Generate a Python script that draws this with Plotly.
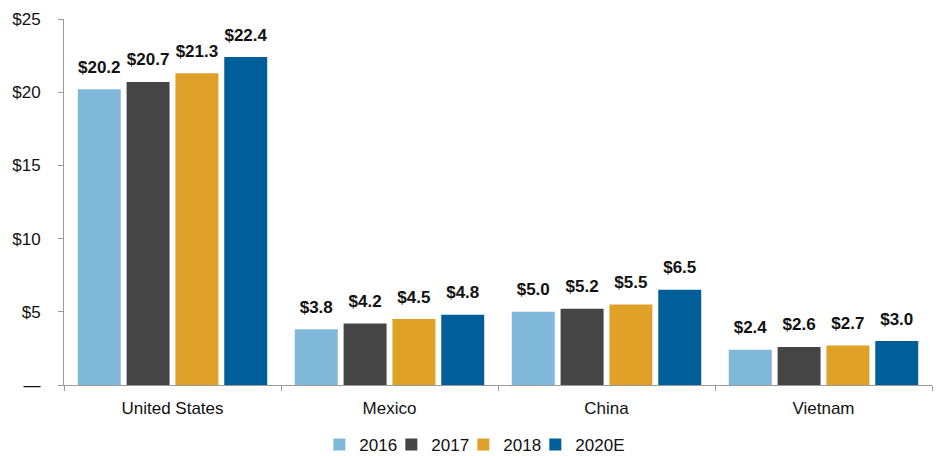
import plotly.graph_objects as go

countries = ["United States", "Mexico", "China", "Vietnam"]
years = ["2016", "2017", "2018", "2020E"]
values = {
    "2016": [20.2, 3.8, 5.0, 2.4],
    "2017": [20.7, 4.2, 5.2, 2.6],
    "2018": [21.3, 4.5, 5.5, 2.7],
    "2020E": [22.4, 4.8, 6.5, 3.0],
}
colors = {
    "2016": "#7FB8D9",
    "2017": "#454545",
    "2018": "#E0A129",
    "2020E": "#005F98",
}
tick_vals = [0, 5, 10, 15, 20, 25]
tick_text = ["—", "$5", "$10", "$15", "$20", "$25"]

FONT = "Liberation Sans, Arial"

fig = go.Figure()
for yr in years:
    fig.add_trace(go.Bar(
        name=yr,
        x=countries,
        y=values[yr],
        offsetgroup=yr,
        marker=dict(color=colors[yr], line=dict(width=0)),
    ))

# blank legend slot so the last compact entry keeps room for its text
fig.add_trace(go.Bar(
    name=" ", x=[None], y=[None],
    marker=dict(color="rgba(0,0,0,0)",
                line=dict(width=0, color="rgba(0,0,0,0)")),
    showlegend=True, hoverinfo="skip",
))

# value labels sit above each bar, lifted by an invisible marker
for yr in years:
    fig.add_trace(go.Scatter(
        x=countries,
        y=values[yr],
        offsetgroup=yr,
        mode="markers+text",
        marker=dict(size=18, opacity=0),
        text=[f"${v:.1f}" for v in values[yr]],
        textposition="top center",
        textfont=dict(family=FONT, size=17, color="#111111", weight="bold"),
        cliponaxis=False,
        showlegend=False,
        hoverinfo="skip",
    ))

fig.update_layout(
    width=942,
    height=456,
    margin=dict(l=64, r=10, t=19, b=71, autoexpand=False),
    barmode="group",
    scattermode="group",
    bargap=0.1,
    bargroupgap=0.12,
    plot_bgcolor="white",
    paper_bgcolor="white",
    font=dict(family=FONT, size=17, color="#111111"),
    showlegend=True,
    legend=dict(
        orientation="h",
        xref="container", yref="container",
        x=0.339, xanchor="left",
        y=0.024, yanchor="middle",
        font=dict(size=17),
        itemwidth=30,
        entrywidth=27,
        traceorder="normal",
    ),
)
fig.update_xaxes(
    showline=True, linecolor="#9a9a9a", linewidth=1,
    ticks="outside", tickson="boundaries", ticklen=5, tickcolor="#9a9a9a",
    showgrid=False,
    ticklabelstandoff=8,
)
fig.update_yaxes(
    range=[0, 25],
    tickvals=tick_vals, ticktext=tick_text,
    showline=True, linecolor="#9a9a9a", linewidth=1,
    ticks="outside", ticklen=5, tickcolor="#9a9a9a",
    showgrid=False, zeroline=False,
    ticklabelstandoff=14,
)

fig.write_html("out.html")
